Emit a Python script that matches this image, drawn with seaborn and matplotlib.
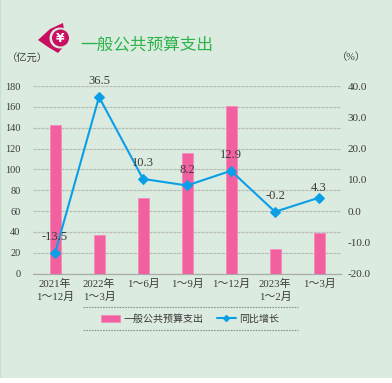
import matplotlib
matplotlib.use('Agg')
import matplotlib.pyplot as plt
import pandas as pd
import seaborn as sns
from matplotlib.lines import Line2D
from matplotlib.patches import Circle, Polygon, Rectangle, Patch

# data
periods = ['2021年\n1～12月', '2022年\n1～3月', '1～6月', '1～9月', '1～12月', '2023年\n1～2月', '1～3月']
spending = [142.5, 37, 73, 115.5, 161, 23.5, 39]
growth = [-13.5, 36.5, 10.3, 8.2, 12.9, -0.2, 4.3]
growth_labels = ['-13.5', '36.5', '10.3', '8.2', '12.9', '-0.2', '4.3']
left_ticks = [0, 20, 40, 60, 80, 100, 120, 140, 160, 180]
right_ticks = [-20, -10, 0, 10, 20, 30, 40]

W, H = 392, 383
BG = '#dcebe0'
INK = '#3a3a3a'
PINK = '#f2609f'
BLUE = '#0a9fe6'

sns.set_theme(style='white')
plt.rcParams['font.family'] = ['Liberation Serif', 'Noto Sans CJK SC']
plt.rcParams['font.size'] = 7.4
plt.rcParams['axes.unicode_minus'] = False

df = pd.DataFrame({'period': periods, 'spending': spending, 'growth': growth})

fig = plt.figure(figsize=(W / 100, H / 100), dpi=100, facecolor='white')

# page background and logo, in pixel coordinates
bg = fig.add_axes([0, 0, 1, 1], zorder=0)
bg.set_xlim(0, W)
bg.set_ylim(H, 0)
bg.axis('off')
bg.add_patch(Rectangle((0, 0), W, 378, color=BG, lw=0))
bg.add_patch(Rectangle((0, 0), 1.5, 378, color='#c5e2ca', lw=0))
bg.add_patch(Polygon([(38, 40), (50, 29), (63, 23), (64, 30), (64, 46), (58, 53), (48, 47)],
                     closed=True, color='#c80f62', lw=0))
bg.add_patch(Circle((60, 38), 10.5, color=BG, lw=0))
bg.add_patch(Circle((60.5, 38), 8.5, color='#c80f62', lw=0))
bg.text(60.5, 38.5, '¥', color='white', fontsize=9, fontweight='bold',
        ha='center', va='center', family='DejaVu Sans')
bg.text(80, 44.5, '一般公共预算支出', color='#2db34a', fontsize=12, ha='left', va='center',
        family='Noto Sans CJK SC')
bg.text(27, 58.5, '（亿元）', color=INK, fontsize=7.4, ha='center', va='center')
bg.text(351, 57.5, '（%）', color=INK, fontsize=7.4, ha='center', va='center')

# main axes
ax = fig.add_axes([33 / W, 1 - 273.7 / H, 308 / W, 187.7 / H], zorder=1)
ax.patch.set_alpha(0)
sns.barplot(data=df, x='period', y='spending', ax=ax, color=PINK, width=0.25, saturation=1,
            edgecolor='#f28cba', linewidth=0.6, zorder=3)
ax.set_xlim(-0.5, 6.5)
ax.set_ylim(0, 180)
ax.set_yticks(left_ticks)
ax.set_xlabel('')
ax.set_ylabel('')
ax.yaxis.grid(True, color='#b9bdb7', linestyle=(0, (2.5, 0.7)), linewidth=0.9)
ax.set_axisbelow(True)
sns.despine(ax=ax, left=True, right=True, top=True)
ax.spines['bottom'].set_color('#a9aca7')
ax.spines['bottom'].set_linewidth(0.9)
ax.tick_params(axis='y', length=0, pad=9, labelcolor=INK, labelsize=7.4)
ax.tick_params(axis='x', length=0, pad=3.5, labelcolor=INK, labelsize=7.8)
for lab in ax.get_xticklabels():
    lab.set_linespacing(1.4)

# growth line on the right axis
ax2 = ax.twinx()
ax2.patch.set_alpha(0)
sns.lineplot(data=df, x='period', y='growth', ax=ax2, color=BLUE, linewidth=1.5, sort=False,
             marker='D', markersize=4.6, markeredgecolor=BLUE, zorder=5)
ax2.set_ylim(-20, 40)
ax2.set_yticks(right_ticks)
ax2.set_yticklabels([f'{t:.1f}' for t in right_ticks])
ax2.set_xlabel('')
ax2.set_ylabel('')
ax2.grid(False)
sns.despine(ax=ax2, left=True, right=True, top=True, bottom=True)
ax2.tick_params(axis='y', length=0, pad=5, labelcolor=INK, labelsize=8)

for i, (val, txt) in enumerate(zip(growth, growth_labels)):
    dy = 7 if txt == '4.3' else 11.5
    ax2.annotate(txt, (i, val), xytext=(0, dy), textcoords='offset points', ha='center',
                 va='center', color=INK, fontsize=9, zorder=6)

# legend with dotted rules above and below
fig.legend(handles=[Patch(facecolor=PINK, edgecolor='#f28cba', linewidth=0.6, label='一般公共预算支出'),
                    Line2D([0], [0], color=BLUE, lw=1.5, marker='D', markersize=3, label='同比增长')],
           loc='center', bbox_to_anchor=(190 / W, 1 - 319 / H), ncol=2, frameon=False, fontsize=7.2,
           handlelength=1.9, handleheight=0.8, handletextpad=0.35, columnspacing=1.3, labelcolor=INK)
for y in (306.5, 329.5):
    bg.plot([83, 298], [y, y], color='#8d918c', lw=0.8, linestyle=(0, (1.5, 1)))

fig.savefig('out.png', dpi=100, facecolor=fig.get_facecolor())
